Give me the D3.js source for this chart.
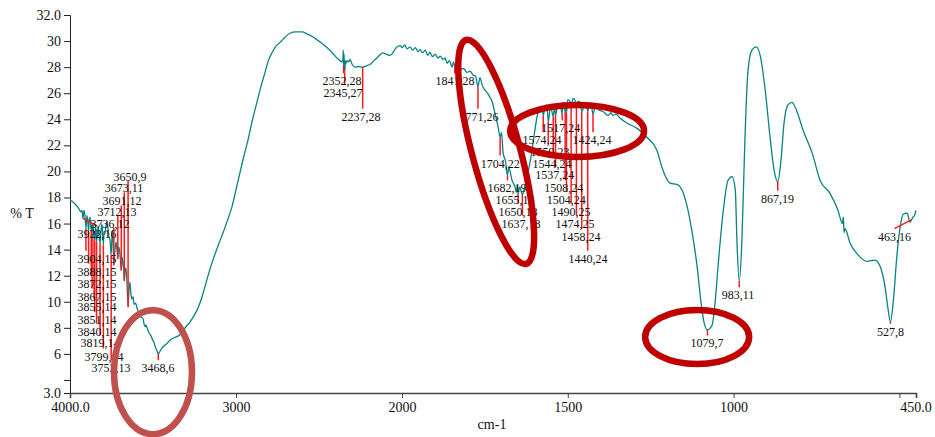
<!DOCTYPE html>
<html><head><meta charset="utf-8">
<script src="https://cdn.jsdelivr.net/npm/d3@7"></script>
<style>
body{margin:0;background:#fff}
svg{display:block}
text{font-family:"Liberation Serif","Times New Roman",serif;fill:#111}
</style>
</head><body>
<svg id="chart" width="935" height="437"></svg>
<script>
// ---- spectrum (wavenumber cm-1, %T) ----
const wavenumber = [4000,3985,3970,3955,3945,3934,3928,3922,3916,3910,3904,3898,3893,3888,3884,3880,3876,3872,3870,3867,3862,3858,3855,3853,3851,3845,3840,3835,3831,3825,3819,3814,3808,3803,3799,3794,3790,3784,3777,3771,3765,3758,3752,3748,3745,3740,3736,3730,3723,3717,3712,3707,3702,3696,3691,3686,3681,3677,3673,3668,3663,3657,3650,3645,3639,3633,3627,3620,3614,3605,3596,3587,3578,3569,3560,3554,3548,3542,3536,3527,3518,3509,3500,3494,3488,3478,3468,3458,3446,3430,3416,3398,3380,3360,3340,3319,3300,3280,3259,3237,3217,3195,3175,3157,3139,3108,3078,3050,3024,3000,2976,2952,2928,2900,2874,2850,2825,2805,2783,2760,2735,2705,2675,2640,2602,2572,2540,2512,2480,2452,2420,2392,2375,2361,2356,2354,2352,2349,2345,2341,2336,2331,2320,2313,2300,2283,2262,2237,2215,2193,2170,2151,2133,2115,2095,2072,2050,2035,2024,2010,2000,1992,1984,1976,1968,1960,1952,1946,1938,1930,1922,1916,1908,1900,1892,1885,1876,1870,1864,1857,1849,1845,1841,1837,1825,1815,1804,1795,1786,1778,1771,1765,1758,1750,1742,1735,1729,1720,1710,1704,1700,1695,1688,1682,1678,1668,1659,1655,1652,1650,1645,1637,1632,1628,1620,1608,1599,1590,1578,1574,1568,1563,1559,1552,1544,1540,1537,1530,1522,1517,1514,1508,1506,1504,1500,1494,1490,1484,1479,1474,1468,1463,1458,1448,1444,1440,1434,1428,1424,1418,1406,1394,1379,1370,1364,1355,1343,1321,1291,1261,1231,1216,1192,1171,1156,1140,1125,1110,1098,1089,1079,1065,1056,1047,1032,1017,1005,995,990,983,975,966,957,945,932,920,905,890,878,867,857,848,836,824,809,791,763,739,709,685,672,669,667,664,649,625,598,574,558,543,534,527,519,507,498,489,477,468,463,459,455,450];
const transmittance = [17.8,17.7,17.5,17.3,17.1,16.9,17.0,16.4,17.0,16.6,15.6,16.6,16.2,15.4,16.3,16.5,16.0,15.5,15.9,15.3,16.0,15.6,14.8,15.4,14.7,15.8,14.6,15.2,15.8,15.0,14.5,15.3,16.0,15.2,14.4,15.4,15.2,15.8,16.1,15.6,15.0,14.6,13.6,14.8,15.5,14.5,12.8,13.8,14.6,14.0,13.3,14.2,14.0,13.2,12.4,13.4,13.0,12.6,11.6,12.4,12.6,11.5,9.6,10.8,11.5,10.6,10.2,10.4,9.8,9.9,9.5,9.2,8.9,8.8,8.7,8.3,8.1,8.2,8.0,7.7,7.5,7.3,7.0,6.9,6.6,6.3,6.0,6.2,6.45,6.65,6.8,7.05,7.2,7.3,7.45,7.8,8.1,8.4,8.8,9.3,9.9,10.8,11.7,12.5,13.2,14.3,15.3,16.3,17.3,18.6,19.9,21.2,22.4,24.0,25.3,26.5,27.6,28.5,29.1,29.6,29.9,30.3,30.6,30.7,30.7,30.55,30.35,30.1,29.8,29.5,29.1,28.7,28.5,28.4,28.6,29.3,28.1,29.0,27.6,28.5,28.3,28.5,28.4,28.6,28.2,28.0,28.05,28.0,28.1,28.2,28.5,28.7,28.95,29.1,29.0,28.9,29.2,29.5,29.6,29.65,29.5,29.7,29.4,29.55,29.3,29.5,29.2,29.35,29.1,29.3,28.9,29.15,28.8,29.0,28.7,28.85,28.6,28.7,28.3,28.5,28.0,28.4,28.1,28.3,27.8,27.9,27.6,27.7,27.4,27.3,26.5,27.2,26.6,26.25,26.0,25.7,25.4,24.5,23.4,22.6,23.0,21.4,20.8,19.7,20.3,19.3,18.8,18.4,18.9,18.3,18.8,18.2,18.6,19.0,19.9,21.6,23.2,24.5,24.9,24.3,25.0,25.1,23.8,25.0,24.2,25.0,24.3,25.1,25.0,24.4,25.3,24.6,25.0,24.5,25.5,25.4,25.0,25.6,25.5,25.1,25.4,25.3,24.6,25.2,25.3,24.6,25.2,24.9,24.4,24.9,24.7,24.6,24.3,24.5,24.3,24.4,24.1,23.7,23.3,22.6,21.6,20.3,19.1,19.0,18.6,17.3,15.3,12.7,9.9,8.4,7.85,8.2,9.9,12.7,16.8,19.3,19.6,18.6,14.7,11.6,14.7,22.4,27.6,29.3,29.55,28.9,26.3,22.6,20.1,19.2,20.9,23.7,25.1,25.3,24.6,23.2,21.4,19.3,18.3,17.0,16.0,16.5,15.3,15.6,14.5,13.6,13.1,13.2,12.7,11.1,9.4,8.45,9.9,13.7,15.7,16.7,16.8,16.1,16.3,16.5,16.6,17.0];

// ---- picked peaks ----
const peakWavenumber = [3922,3904,3888,3872,3867,3855,3851,3840,3819,3799,3752,3736,3712,3691,3673,3650,3468,2352,2345,2237,1841,1771,1704,1682,1655,1650,1637,1574,1559,1544,1537,1517,1508,1504,1490,1474,1458,1440,1424,1079,983,867,527,463];
const peakLabel = ["3922,16","3904,15","3888,15","3872,15","3867,15","3855,14","3851,14","3840,14","3819,14","3799,14","3752,13","3736,12","3712,13","3691,12","3673,11","3650,9","3468,6","2352,28","2345,27","2237,28","1841,28","1771,26","1704,22","1682,19","1655,18","1650,18","1637,18","1574,24","1559,23","1544,24","1537,24","1517,24","1508,24","1504,24","1490,25","1474,25","1458,24","1440,24","1424,24","1079,7","983,11","867,19","527,8","463,16"];
// label anchors, in data units (cm-1, %T)
const labelWavenumber = [3837,3837,3837,3837,3837,3837,3837,3837,3819,3795,3753,3759,3717,3687,3675,3639,3470,2361,2355,2247,1840,1768,1704,1683,1659,1650,1641,1578,1554,1548,1539,1521,1512,1505,1490,1478,1460,1439,1427,1080,987,868,527,515];
const labelTransmittance = [15.2,13.3,12.3,11.4,10.4,9.6,8.6,7.7,6.8,5.8,4.9,16.0,16.9,17.7,18.7,19.6,4.9,26.9,26.0,24.2,26.9,24.2,20.6,18.7,17.8,16.9,16.0,22.4,21.5,20.6,19.7,23.3,18.7,17.8,16.9,16.0,15.0,13.3,22.4,6.8,10.5,17.9,7.7,15.0];

// ---- highlight ellipses (centres in data units) ----
const highlightWavenumber = [3500,1716,1472,1110];
const highlightTransmittance = [4.6,21.5,23.1,7.3];

// ---- axes ----
const xTickValues = [4000,3000,2000,1500,1000,500];
const xTickLabels = ["4000.0","3000","2000","1500","1000",""];
const xEndLabel = "450.0";
const yTickValues = [32,30,28,26,24,22,20,18,16,14,12,10,8,6,4,3];
const yTickLabels = ["32.0","30","28","26","24","22","20","18","16","14","12","10","8","6","","3.0"];

const svg = d3.select("#chart");
const x = d3.scaleLinear().domain([4000,2000,450]).range([70,402,916]);
const y = d3.scaleLinear().domain([3,32]).range([393,15]);

const pts = wavenumber.map((w,i)=>[w,transmittance[i]]);
const curveAt = w => {
  const asc = pts.slice().reverse();
  const i = d3.bisector(d=>d[0]).left(asc, w);
  if (i<=0) return asc[0][1];
  if (i>=asc.length) return asc[asc.length-1][1];
  const a = asc[i-1], b = asc[i];
  return a[1] + (b[1]-a[1])*(w-a[0])/(b[0]-a[0]);
};

// axes
const yAxis = d3.axisLeft(y).tickValues(yTickValues).tickSize(6).tickPadding(3)
  .tickFormat((d,i)=>yTickLabels[i]);
const gy = svg.append("g").attr("transform","translate(70,0)").call(yAxis);
gy.selectAll("text").style("font-size","14px");
gy.select(".domain").attr("stroke","#222");
gy.selectAll(".tick line").attr("stroke","#222");

const xAxis = d3.axisBottom(x).tickValues(xTickValues).tickSize(5).tickPadding(4)
  .tickFormat((d,i)=>xTickLabels[i]);
const gx = svg.append("g").attr("transform","translate(0,393)").call(xAxis);
gx.selectAll("text").style("font-size","14px");
gx.select(".domain").attr("stroke","#444").attr("stroke-width",1.6);
gx.selectAll(".tick line").attr("stroke","#444");
svg.append("text").attr("x",x(450)).attr("y",412).attr("text-anchor","middle")
  .style("font-size","14px").text(xEndLabel);

svg.append("text").attr("x",492).attr("y",429).attr("text-anchor","middle").style("font-size","14px").text("cm-1");
svg.append("text").attr("x",22).attr("y",218).attr("text-anchor","middle").style("font-size","14px").text("% T");

// spectrum
svg.append("path").datum(pts)
  .attr("fill","none").attr("stroke","#0a8282").attr("stroke-width",1.3)
  .attr("d", d3.line().x(d=>x(d[0])).y(d=>y(d[1])).curve(d3.curveMonotoneX));

// peak leaders + labels
const peaks = peakWavenumber.map((w,i)=>({w, t:curveAt(w), lw:labelWavenumber[i], lt:labelTransmittance[i], s:peakLabel[i]}));
svg.append("g").selectAll("line").data(peaks).join("line")
  .attr("x1",d=>x(d.w)).attr("y1",d=>y(d.t))
  .attr("x2",d=>Math.abs(x(d.lw)-x(d.w))>12 ? x(d.lw) : x(d.w))
  .attr("y2",d=>d.lt<d.t ? y(d.lt)-8 : y(d.lt)+4)
  .attr("stroke","#ff1a1a").attr("stroke-width",1.5);
svg.append("g").selectAll("text").data(peaks).join("text")
  .attr("x",d=>x(d.lw)).attr("y",d=>y(d.lt)+4)
  .attr("text-anchor","middle").style("font-size","12px").text(d=>d.s);

// highlight ellipses
const ellStyle = [
  {rx:39, ry:62, rot:0, c:"#c0504d"},
  {rx:24, ry:116, rot:-15, c:"#bf0000"},
  {rx:67, ry:26, rot:0, c:"#bf0000"},
  {rx:52, ry:27, rot:0, c:"#bf0000"}
];
svg.append("g").selectAll("ellipse").data(highlightWavenumber.map((w,i)=>({w,t:highlightTransmittance[i],...ellStyle[i]})))
  .join("ellipse")
  .attr("transform",d=>`translate(${x(d.w)},${y(d.t)}) rotate(${d.rot})`)
  .attr("rx",d=>d.rx).attr("ry",d=>d.ry)
  .attr("fill","none").attr("stroke",d=>d.c).attr("stroke-width",6.5);
</script>
</body></html>
